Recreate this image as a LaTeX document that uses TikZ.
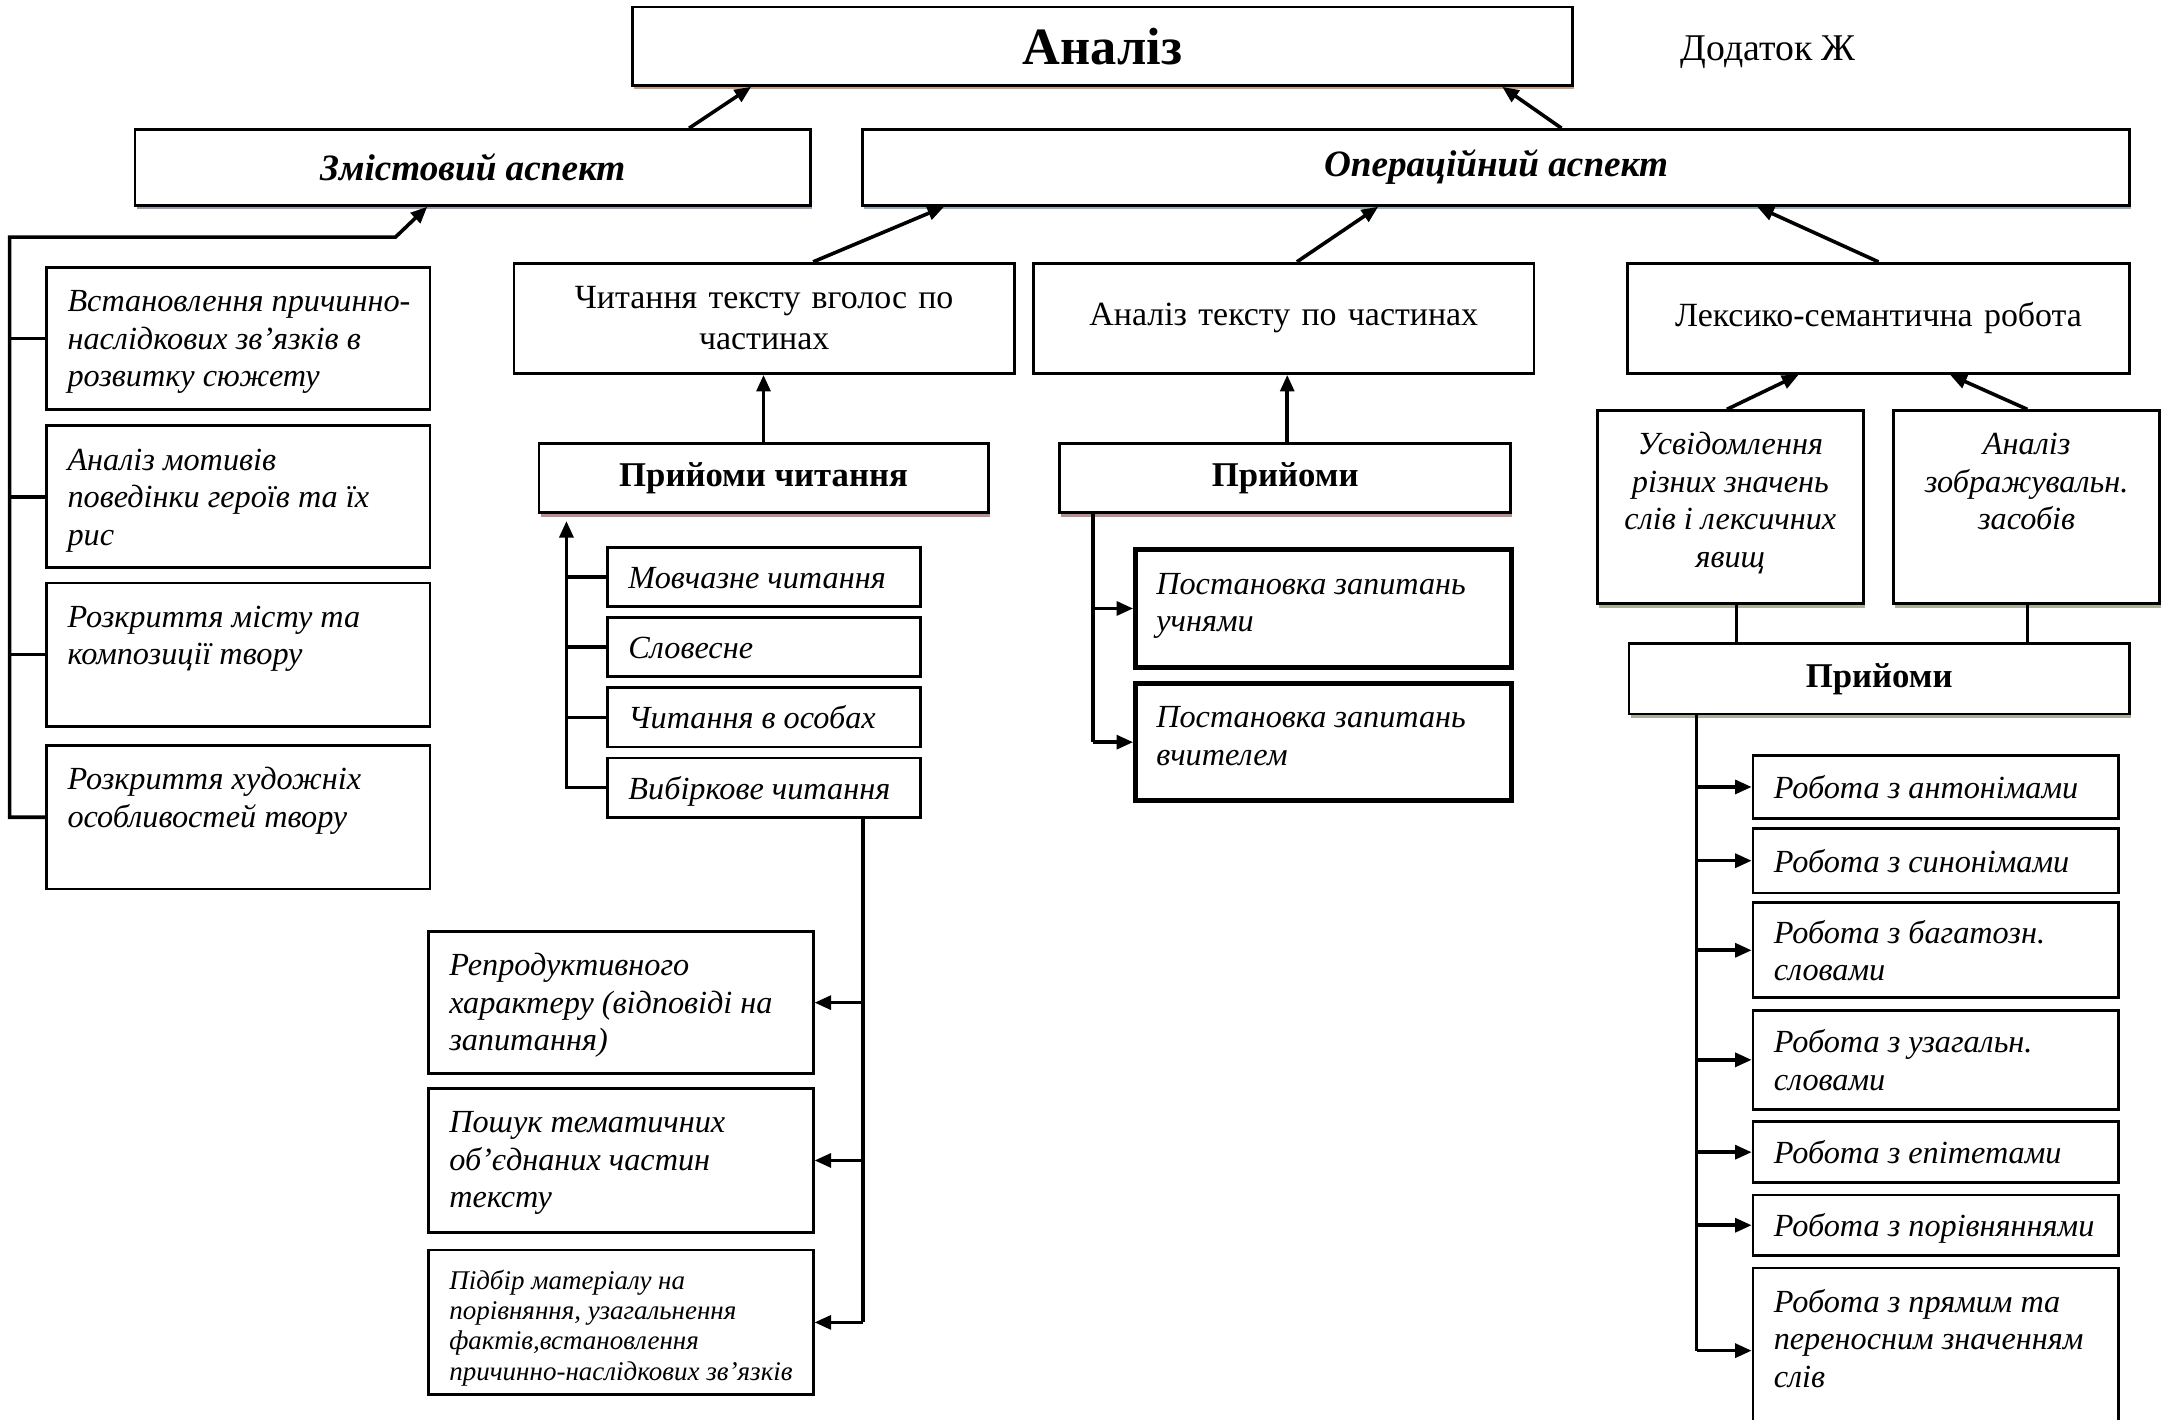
\documentclass[tikz,border=0pt]{standalone}
\usepackage{fontspec}
\setmainfont{Liberation Serif}
\usetikzlibrary{arrows.meta,shadows}

\definecolor{shTan}{RGB}{200,160,128}
\definecolor{shLilac}{RGB}{160,152,172}
\definecolor{shSteel}{RGB}{145,175,182}
\definecolor{shRose}{RGB}{182,145,145}
\definecolor{shOlive}{RGB}{168,176,150}

% #1 vertical position, #2 width, #3 height (outer, in pt), #4 lines
\newcommand{\tb}[4][t]{\parbox[c][\dimexpr#3pt-6pt\relax][#1]{\dimexpr#2pt-15pt\relax}{%
  \vspace*{\ifx t#1 3.5pt\else 3pt\fi}\begin{tabular}[t]{@{}l@{}}#4\end{tabular}}}
\newcommand{\tbc}[3]{\parbox[c][\dimexpr#2pt-6pt\relax][t]{\dimexpr#1pt-15pt\relax}{%
  \vspace*{3.5pt}\centering\begin{tabular}[t]{@{}c@{}}#3\end{tabular}}}

\tikzset{
  box/.style={draw, line width=1pt, fill=white, inner xsep=7.5pt, inner ysep=3pt,
    font=\fontsize{12.3}{13.6}\selectfont},
  ibox/.style={box, font=\fontsize{11.7}{13.6}\selectfont\itshape},
  head/.style={box, inner sep=0pt, font=\fontsize{12.6}{15}\selectfont\bfseries},
  tint/.style={drop shadow={shadow xshift=0.6pt, shadow yshift=-1.4pt, fill=#1, opacity=1}},
  arr/.style={-{Triangle[length=6pt,width=5pt]}, line width=1.3pt},
  link/.style={line width=1.3pt}
}

\begin{document}
\begin{tikzpicture}[x=0.5pt,y=-0.5pt]
  \useasboundingbox (0,0) rectangle (1568,1030);
  \clip (0,0) rectangle (1568,1030);
  \draw
    (800,33.5) node[head, tint=shTan, minimum width=341pt, minimum height=28.5pt,
      font=\fontsize{19}{22}\selectfont\bfseries] (an){Аналіз}
    (1283,38) node[font=\fontsize{13.7}{16}\selectfont] (add){Додаток Ж}
    (343,121.5) node[head, tint=shLilac, minimum width=245pt, minimum height=27.5pt,
      font=\fontsize{13.5}{16}\selectfont\bfseries\itshape] (zm){Змістовий аспект}
    (1085.5,121.5) node[head, tint=shSteel, minimum width=459.5pt, minimum height=27.5pt,
      font=\fontsize{13.5}{16}\selectfont\bfseries\itshape] (op){Операційний аспект};
  \draw
    (173,245.5) node[ibox] (l1){\tb{139}{51.5}{Встановлення причинно-\\наслідкових зв’язків в\\розвитку сюжету}}
    (173,360.5) node[ibox] (l2){\tb{139}{51.5}{Аналіз мотивів\\поведінки героїв та їх\\рис}}
    (173,475) node[ibox] (l3){\tb{139}{52}{Розкриття місту та\\композиції твору}}
    (173,593) node[ibox] (l4){\tb{139}{52}{Розкриття художніх\\особливостей твору}};
  \draw
    (554.5,231) node[box, align=center, text width=166.5pt, minimum height=40pt,
      font=\fontsize{12.3}{15}\selectfont] (rd){Читання тексту вголос по\\частинах}
    (554,347) node[head, tint=shRose, minimum width=163pt, minimum height=25pt] (rt){Прийоми читання}
    (554.5,418.5) node[ibox] (m1){\tb[c]{113.5}{21.5}{Мовчазне читання}}
    (554.5,469.5) node[ibox] (m2){\tb[c]{113.5}{21.5}{Словесне}}
    (554.5,520.5) node[ibox] (m3){\tb[c]{113.5}{21.5}{Читання в особах}}
    (554.5,571.5) node[ibox] (m4){\tb[c]{113.5}{21.5}{Вибіркове читання}}
    (450.5,727.5) node[ibox] (q1){\tb{139.5}{51.5}{Репродуктивного\\характеру (відповіді на\\запитання)}}
    (450.5,842) node[ibox] (q2){\tb{139.5}{52}{Пошук тематичних\\об’єднаних частин\\тексту}}
    (450.5,959.5) node[ibox, font=\fontsize{9.8}{11}\selectfont\itshape] (q3){\tb{139.5}{52.5}{Підбір матеріалу на\\порівняння, узагальнення\\фактів,встановлення\\причинно-наслідкових зв’язків}};
  \draw
    (931.5,231) node[box, align=center, text width=166.5pt, minimum height=40pt] (ap){Аналіз тексту по частинах}
    (932.5,347) node[head, tint=shRose, minimum width=163.5pt, minimum height=25pt] (pm){Прийоми}
    (960.5,441.5) node[ibox, line width=1.8pt] (s1){\tb{136.5}{42.5}{Постановка запитань\\учнями}}
    (960.5,538.5) node[ibox, line width=1.8pt] (s2){\tb{136.5}{42.5}{Постановка запитань\\вчителем}};
  \draw
    (1363,231) node[box, align=center, text width=167pt, minimum height=40pt] (lx){Лексико-семантична робота}
    (1255.5,368) node[ibox, tint=shOlive] (us){\tbc{96.5}{70}{Усвідомлення\\різних значень\\слів і лексичних\\явищ}}
    (1470.5,368) node[ibox, tint=shOlive] (az){\tbc{96.5}{70}{Аналіз\\зображувальн.\\засобів}}
    (1363.5,492.5) node[head, tint=shOlive, minimum width=181.5pt, minimum height=25.5pt] (pr){Прийоми}
    (1404.5,571) node[ibox] (r1){\tb[c]{132.5}{23}{Робота з антонімами}}
    (1404.5,624.5) node[ibox] (r2){\tb[c]{132.5}{23.5}{Робота з синонімами}}
    (1404.5,689.5) node[ibox] (r3){\tb[c]{132.5}{34.5}{Робота з багатозн.\\словами}}
    (1404.5,769) node[ibox] (r4){\tb[c]{132.5}{36}{Робота з узагальн.\\словами}}
    (1404.5,836) node[ibox] (r5){\tb[c]{132.5}{22}{Робота з епітетами}}
    (1404.5,889) node[ibox] (r6){\tb[c]{132.5}{22}{Робота з порівняннями}}
    (1404.5,980) node[ibox] (r7){\tb{132.5}{60}{Робота з прямим та\\переносним значенням\\слів}};
  \coordinate (zk) at (287,172);
  \coordinate (rk) at (411,378);
  \begin{scope}[arr]
    \draw (500,0 |- zm.north) -- (545,0 |- an.south);
    \draw (1133,0 |- op.north) -- (1090,0 |- an.south);
    \draw (590,0 |- rd.north) -- (685,0 |- op.south);
    \draw (941,0 |- ap.north) -- (1000,0 |- op.south);
    \draw (1363,0 |- lx.north) -- (1275,0 |- op.south);
    \draw (rt.north) -- (rt.north |- rd.south);
    \draw (934,0 |- pm.north) -- (934,0 |- ap.south);
    \draw (1253,0 |- us.north) -- (1305,0 |- lx.south);
    \draw (1471,0 |- az.north) -- (1415,0 |- lx.south);
    \draw (l4.west) -- (7,0 |- l4.west) |- (zk) -- (310,0 |- zm.south);
    \draw (m4.west) -| (rk);
    \foreach \n in {q1,q2,q3} \draw (626,0 |- \n.east) -- (\n.east);
    \foreach \n in {s1,s2} \draw (793,0 |- \n.west) -- (\n.west);
    \foreach \n in {r1,r2,r3,r4,r5,r6,r7} \draw (1231,0 |- \n.west) -- (\n.west);
  \end{scope}
  \begin{scope}[link]
    \foreach \n in {l1,l2,l3} \draw (\n.west) -- (7,0 |- \n.west);
    \foreach \n in {m1,m2,m3} \draw (\n.west) -- (\n.west -| rk);
    \draw (626,0 |- m4.south) -- (626,0 |- q3.east);
    \draw (793,0 |- pm.south) -- (793,0 |- s2.west);
    \draw (1231,0 |- pr.south) -- (1231,0 |- r7.west);
    \draw (1260,0 |- us.south) -- (1260,0 |- pr.north);
    \draw (1471,0 |- az.south) -- (1471,0 |- pr.north);
  \end{scope}
\end{tikzpicture}
\end{document}
